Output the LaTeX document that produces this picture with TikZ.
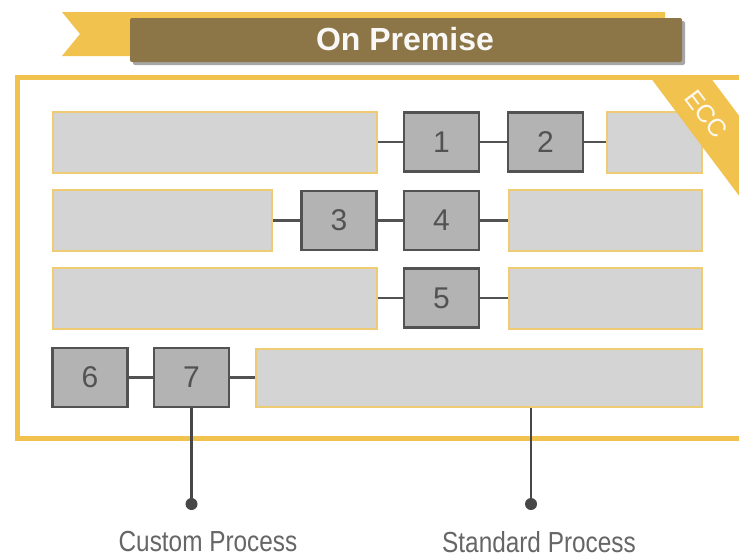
\documentclass[tikz,border=0pt]{standalone}
\usepackage{fontspec}
\setmainfont{Liberation Sans}
\usetikzlibrary{positioning, calc}

\definecolor{gold}{HTML}{F2C24F}
\definecolor{goldline}{HTML}{EFCB73}
\definecolor{bronze}{HTML}{8C7648}
\definecolor{boxgrey}{HTML}{D4D4D4}
\definecolor{sqgrey}{HTML}{B3B3B3}
\definecolor{darkline}{HTML}{525252}

\begin{document}
\begin{tikzpicture}[
    x=1pt, y=-1pt,
    bar/.style={
        draw=goldline,
        fill=boxgrey,
        line width=2pt,
        minimum height=61pt,
        inner sep=0pt
    },
    proc/.style={
        draw=darkline,
        fill=sqgrey,
        line width=2.5pt,
        minimum width=75pt,
        minimum height=59pt,
        inner sep=0pt,
        font=\fontsize{30}{30}\selectfont,
        text=black!68
    },
    link/.style={draw=darkline, line width=2.5pt},
    caption/.style={
        font=\fontsize{29}{29}\selectfont,
        text=black!60
    }
]

\useasboundingbox (0,0) rectangle (739,557);
\fill[white] (0,0) rectangle (739,557);
\clip (0,0) rectangle (739,557);

% --- Titolo: nastro giallo e barra ---
\fill[gold] (62,12) -- (665,12) -- (665,56) -- (62,56) -- (80,34) -- cycle;
\fill[black!35, rounded corners=2pt] (133,21) rectangle (685,65);
\fill[bronze, rounded corners=2pt] (130,18) rectangle (682,62);
\node[font=\fontsize{32}{32}\selectfont\bfseries, text=white!95!bronze] (title) at (405,39) {On Premise};

% --- Cornice ---
\draw[gold, line width=5pt] (17,77) rectangle (760,438);

% --- Riga 1 ---
\node[bar, minimum width=324pt] (R1a) at (215,142) {};
\node[proc] (N1) at (441.5,142) {1};
\node[proc] (N2) at (545.5,142) {2};
\node[bar, minimum width=95pt] (R1b) at (654.5,142) {};
\draw[link] (R1a) -- (N1);
\draw[link] (N1) -- (N2);
\draw[link] (N2) -- (R1b);

% --- Riga 2 ---
\node[bar, minimum width=219pt] (R2a) at (162.5,220.5) {};
\node[proc] (N3) at (339,220.5) {3};
\node[proc] (N4) at (441.5,220.5) {4};
\node[bar, minimum width=193pt] (R2b) at (605.5,220.5) {};
\draw[link] (R2a) -- (N3);
\draw[link] (N3) -- (N4);
\draw[link] (N4) -- (R2b);

% --- Riga 3 ---
\node[bar, minimum width=324pt] (R3a) at (215,298) {};
\node[proc] (N5) at (441.5,298) {5};
\node[bar, minimum width=193pt] (R3b) at (605.5,298) {};
\draw[link] (R3a) -- (N5);
\draw[link] (N5) -- (R3b);

% --- Riga 4 ---
\node[proc] (N6) at (90,377.5) {6};
\node[proc] (N7) at (191.5,377.5) {7};
\node[bar, minimum width=446pt, minimum height=58pt] (R4a) at (479,377.5) {};
\draw[link] (N6) -- (N7);
\draw[link] (N7) -- (R4a);

% --- Fascia ECC nell'angolo ---
\fill[gold] (650,77) -- (710,77) -- (770,157) -- (770,237) -- cycle;
\node[rotate=-53, text=white!92!gold, font=\fontsize{25}{25}\selectfont] (ecc) at (706,114) {ECC};

% --- Legenda ---
\coordinate (dotC) at (191.5,504);
\coordinate (dotS) at (531,504);
\draw[link, draw=black!72] (N7.south) -- (dotC);
\draw[link, draw=black!72] (R4a.south -| dotS) -- (dotS);
\fill[black!72] (dotC) circle (6);
\fill[black!72] (dotS) circle (6);

\node[caption] (capC) at (208,542) {\scalebox{0.84}[1]{Custom Process}};
\node[caption] (capS) at (539,542) {\scalebox{0.84}[1]{Standard Process}};

\end{tikzpicture}
\end{document}
